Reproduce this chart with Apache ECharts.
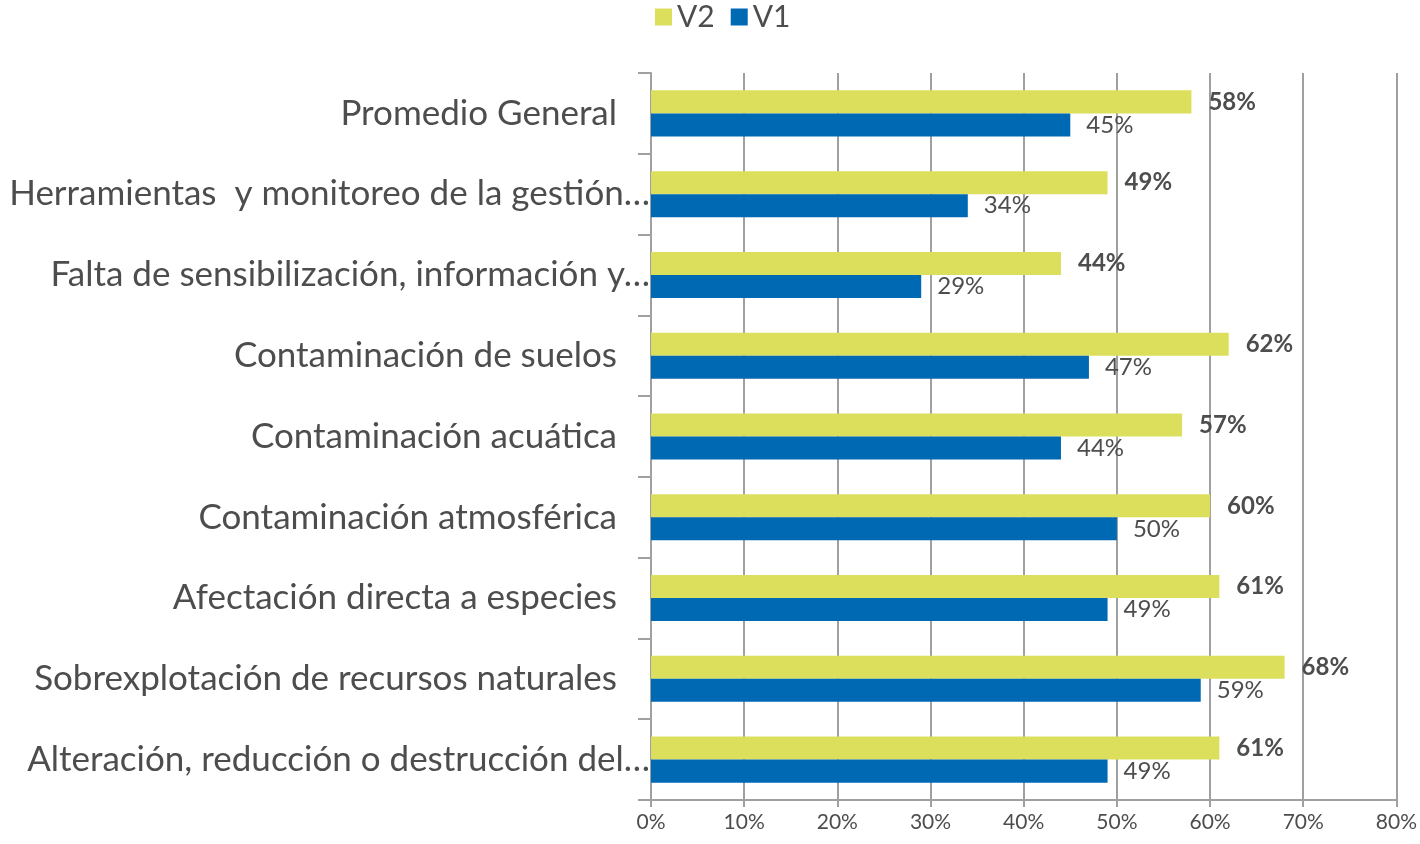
<!DOCTYPE html>
<html>
<head>
<meta charset="utf-8">
<script src="https://cdn.jsdelivr.net/npm/echarts@6/dist/echarts.min.js"></script>
<style>
  html, body { margin: 0; padding: 0; background: #fff; }
  #chart { width: 1420px; height: 844px; }
</style>
</head>
<body>
<div id="chart"></div>
<script>
// categories top to bottom, as they appear in the picture
const categories = [
  "Promedio General",
  "Herramientas  y monitoreo de la gestión…",
  "Falta de sensibilización, información y…",
  "Contaminación de suelos",
  "Contaminación acuática",
  "Contaminación atmosférica",
  "Afectación directa a especies",
  "Sobrexplotación de recursos naturales",
  "Alteración, reducción o destrucción del…"
];
const v2Values = [58, 49, 44, 62, 57, 60, 61, 68, 61];
const v1Values = [45, 34, 29, 47, 44, 50, 49, 59, 49];
const xTicks = [0, 10, 20, 30, 40, 50, 60, 70, 80];

const textColor = "#4d4d4d";
const lineColor = "#a0a0a0";
const fontFamily = "Lato, 'Open Sans', sans-serif";

const chart = echarts.init(document.getElementById("chart"));

const option = {
  animation: false,
  textStyle: { fontFamily: fontFamily, color: textColor },
  legend: {
    data: ["V2", "V1"],
    top: -3,
    left: 650,
    icon: "rect",
    itemWidth: 17,
    itemHeight: 17,
    itemGap: 16,
    textStyle: { fontSize: 30, color: textColor, fontFamily: fontFamily }
  },
  grid: {
    left: 651,
    right: 23,
    top: 73,
    bottom: 44,
    containLabel: false
  },
  xAxis: {
    type: "value",
    min: xTicks[0],
    max: xTicks[xTicks.length - 1],
    interval: 10,
    axisLine: { show: true, lineStyle: { color: lineColor, width: 2 } },
    axisTick: { show: true, length: 7, lineStyle: { color: lineColor, width: 2 } },
    axisLabel: {
      formatter: "{value}%",
      color: textColor,
      fontSize: 21,
      margin: 12
    },
    splitLine: { show: true, lineStyle: { color: lineColor, width: 2 } }
  },
  yAxis: {
    type: "category",
    inverse: true,
    data: categories,
    axisLine: { show: true, lineStyle: { color: lineColor, width: 2 } },
    axisTick: { show: true, length: 13, lineStyle: { color: lineColor, width: 2 } },
    axisLabel: {
      margin: 1,
      formatter: function (val) {
        return val.endsWith("…") ? "{cut|" + val + "}" : "{full|" + val + "}";
      },
      rich: {
        full: { fontSize: 35, color: textColor, fontFamily: fontFamily, padding: [0, 33, 0, 0] },
        cut: { fontSize: 35, color: textColor, fontFamily: fontFamily }
      }
    }
  },
  series: [
    {
      name: "V2",
      type: "bar",
      data: v2Values,
      barGap: "0%",
      barCategoryGap: "43%",
      itemStyle: { color: "#dcdf5b" },
      label: {
        show: true,
        position: "right",
        distance: 17,
        formatter: "{c}%",
        color: textColor,
        fontSize: 24,
        fontWeight: "bold"
      }
    },
    {
      name: "V1",
      type: "bar",
      data: v1Values,
      barGap: "0%",
      barCategoryGap: "43%",
      itemStyle: { color: "#0069b4" },
      label: {
        show: true,
        position: "right",
        distance: 16,
        formatter: "{c}%",
        color: textColor,
        fontSize: 24
      }
    }
  ]
};

chart.setOption(option);
</script>
</body>
</html>
